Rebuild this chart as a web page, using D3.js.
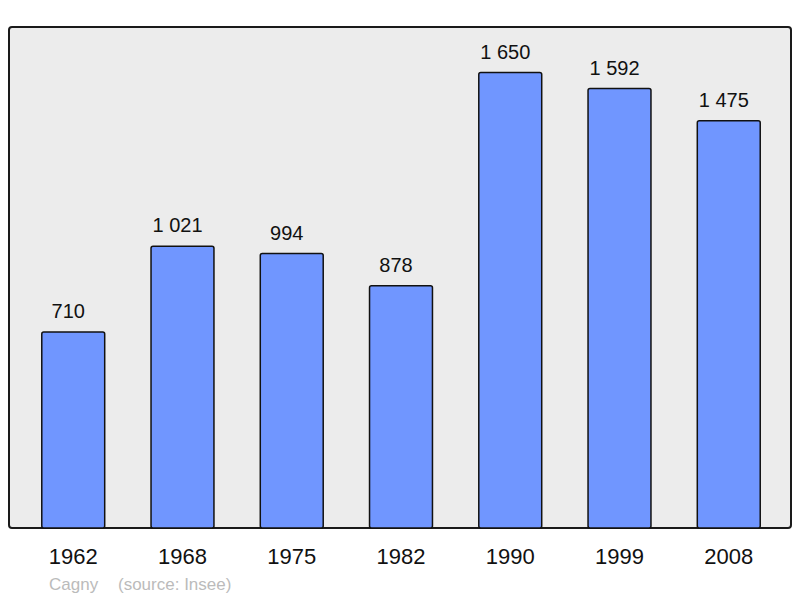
<!DOCTYPE html>
<html>
<head>
<meta charset="utf-8">
<script src="https://cdn.jsdelivr.net/npm/d3@7"></script>
<style>
  body { margin: 0; background: #fff; }
  text { font-family: "Liberation Sans", Arial, sans-serif; }
</style>
</head>
<body>
<svg id="chart" width="800" height="598"></svg>
<script>
// données de population
var years = ["1962", "1968", "1975", "1982", "1990", "1999", "2008"];
var population = [710, 1021, 994, 878, 1650, 1592, 1475];
var commune = "Cagny";
var source = "(source: Insee)";

var svg = d3.select("#chart");
var plotLeft = 9, plotRight = 791, plotTop = 27, plotBottom = 528;

// cadre gris
svg.append("rect")
    .attr("x", plotLeft).attr("y", plotTop)
    .attr("width", plotRight - plotLeft).attr("height", plotBottom - plotTop)
    .attr("rx", 3)
    .attr("fill", "#ececec")
    .attr("stroke", "#1a1a1a")
    .attr("stroke-width", 2);

var x = d3.scaleBand()
    .domain(years)
    .range([plotLeft, 793])
    .paddingInner(0.424)
    .paddingOuter(0.3);

var y = d3.scaleLinear()
    .domain([0, d3.max(population) * 1.1])
    .range([plotBottom, plotTop]);

var fmt = function(v){
    // espace comme séparateur de milliers
    return d3.format(",")(v).replace(",", " ");
};

var data = years.map(function(d, i){ return {year: d, value: population[i]}; });

svg.selectAll(".bar")
    .data(data)
    .enter()
    .append("rect")
    .attr("class", "bar")
    .attr("x", function(d){ return x(d.year); })
    .attr("y", function(d){ return y(d.value); })
    .attr("width", x.bandwidth())
    .attr("height", function(d){ return plotBottom - y(d.value); })
    .attr("rx", 2)
    .attr("fill", "#7096ff")
    .attr("stroke", "#111")
    .attr("stroke-width", 1.5);

// les valeurs sont un peu décalées vers la gauche dans l'original
svg.selectAll(".val")
    .data(data)
    .enter()
    .append("text")
    .attr("class", "val")
    .attr("x", function(d){ return x(d.year) + x.bandwidth() / 2 - 5; })
    .attr("y", function(d){ return y(d.value) - 14; })
    .attr("text-anchor", "middle")
    .attr("font-size", 20)
    .attr("fill", "#111")
    .text(function(d){ return fmt(d.value); });

// axe des années
var axis = svg.append("g")
    .attr("transform", "translate(0," + plotBottom + ")")
    .call(d3.axisBottom(x).tickSize(0).tickPadding(0));
axis.select(".domain").remove();
axis.selectAll("text")
    .attr("dy", 0)
    .attr("y", 36)
    .attr("font-size", 22)
    .attr("font-family", "Liberation Sans, Arial, sans-serif")
    .attr("fill", "#111");

svg.append("text")
    .attr("x", 49).attr("y", 590)
    .attr("font-size", 17)
    .attr("fill", "#bbb")
    .text(commune);
svg.append("text")
    .attr("x", 118).attr("y", 590)
    .attr("font-size", 17)
    .attr("fill", "#bbb")
    .text(source);
</script>
</body>
</html>
